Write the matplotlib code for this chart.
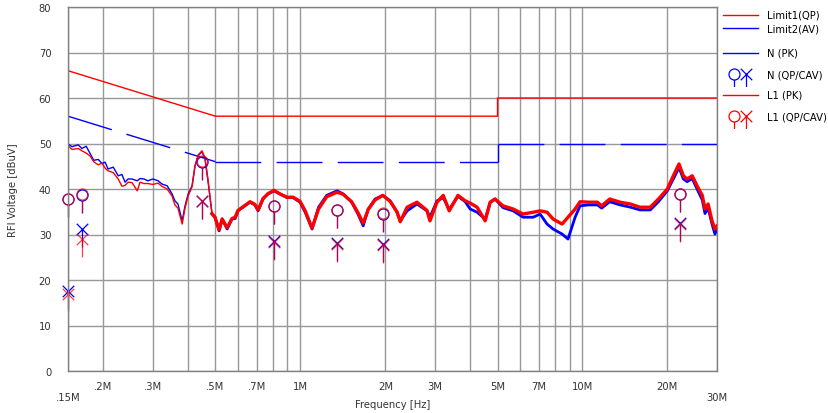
import matplotlib
matplotlib.use("Agg")
import matplotlib.pyplot as plt
from matplotlib.legend_handler import HandlerTuple
from matplotlib.lines import Line2D
from matplotlib.path import Path
from matplotlib.transforms import Affine2D
import numpy as np

# Peak scans, frequency in MHz, level in dBuV
freq_mhz = [
    0.150, 0.155, 0.163, 0.168, 0.174, 0.180, 0.185, 0.192, 0.198, 0.203,
    0.208, 0.217, 0.226, 0.233, 0.239, 0.245, 0.253, 0.264, 0.270, 0.279,
    0.288, 0.300, 0.313, 0.323, 0.337, 0.351, 0.359, 0.368, 0.381, 0.390,
    0.400, 0.413, 0.423, 0.434, 0.448, 0.459, 0.471, 0.486, 0.498, 0.515,
    0.528, 0.550, 0.572, 0.587, 0.601, 0.636, 0.663, 0.690, 0.708, 0.737,
    0.768, 0.807, 0.847, 0.897, 0.942, 0.997, 1.04, 1.10, 1.16, 1.24,
    1.35, 1.42, 1.52, 1.60, 1.67, 1.74, 1.84, 1.96, 2.08, 2.20,
    2.26, 2.39, 2.59, 2.81, 2.88, 3.05, 3.21, 3.37, 3.62, 3.84,
    4.00, 4.23, 4.52, 4.71, 4.90, 5.23, 5.68, 6.16, 6.69, 7.08,
    7.49, 7.87, 8.47, 8.89, 9.42, 9.81, 10.5, 11.3, 11.7, 12.5,
    13.6, 14.8, 16.0, 17.4, 18.6, 20.0, 21.0, 22.0, 22.8, 23.5,
    24.5, 25.5, 26.6, 27.2, 27.9, 28.8, 29.5, 30.0,
]
n_pk = [
    49.9, 49.3, 49.7, 48.9, 49.4, 47.7, 46.3, 46.5, 45.6, 45.9,
    44.4, 44.8, 42.9, 43.2, 41.5, 42.2, 42.2, 41.8, 42.3, 42.2,
    41.8, 42.2, 41.8, 41.1, 40.7, 38.9, 37.4, 36.7, 33.0, 36.3,
    38.9, 40.7, 45.1, 47.3, 48.2, 46.6, 41.5, 34.5, 33.8, 30.8,
    33.4, 31.2, 33.4, 33.5, 35.2, 36.3, 37.1, 36.5, 35.2, 37.8,
    38.9, 39.6, 38.9, 38.1, 38.1, 37.1, 34.9, 31.2, 36.0, 38.6,
    39.6, 38.9, 37.1, 34.5, 31.9, 35.6, 37.8, 38.6, 37.4, 34.9,
    33.0, 35.2, 36.7, 35.2, 33.8, 37.4, 38.1, 35.5, 38.4, 37.2,
    35.6, 34.9, 33.4, 37.1, 37.8, 35.9, 35.2, 33.8, 33.8, 34.5,
    32.3, 31.2, 30.1, 29.0, 33.8, 36.3, 36.5, 36.5, 35.8, 37.2,
    36.5, 36.0, 35.4, 35.4, 37.2, 39.6, 42.2, 44.7, 42.2, 41.6,
    42.3, 40.0, 37.6, 34.6, 35.8, 32.3, 30.1, 31.0,
]
l1_pk = [
    49.5, 48.7, 48.9, 48.4, 47.9, 47.2, 46.0, 45.3, 45.7, 44.6,
    44.0, 43.6, 42.2, 40.6, 40.8, 41.5, 41.4, 39.6, 41.5, 41.2,
    41.2, 41.0, 41.3, 40.6, 40.0, 38.4, 36.5, 35.8, 32.3, 35.8,
    38.5, 40.5, 45.0, 47.5, 48.4, 46.8, 41.8, 34.6, 33.8, 31.0,
    33.4, 31.5, 33.5, 33.8, 35.3, 36.4, 37.2, 36.6, 35.4, 37.9,
    39.0, 39.7, 38.9, 38.2, 38.2, 37.3, 35.2, 31.4, 35.6, 38.3,
    39.3, 38.8, 37.2, 34.8, 32.5, 35.5, 37.6, 38.6, 37.3, 35.0,
    32.8, 36.0, 37.1, 35.3, 33.0, 37.1, 38.6, 35.2, 38.6, 37.4,
    36.9, 36.0, 33.0, 37.1, 37.8, 36.3, 35.6, 34.5, 34.9, 35.2,
    34.9, 33.4, 32.3, 33.8, 35.6, 37.2, 37.1, 37.1, 36.3, 37.8,
    37.1, 36.7, 36.0, 36.0, 37.8, 40.0, 42.9, 45.5, 42.9, 42.2,
    42.9, 40.7, 38.6, 35.6, 36.7, 33.0, 31.2, 31.9,
]

# Limit lines
limit_freq = [0.15, 0.5, 5, 5, 30]
limit1_qp = [66, 56, 56, 60, 60]
limit2_av = [56, 46, 46, 50, 50]

# Final measurements (QP and CAV detector)
meas_freq = [0.150, 0.168, 0.447, 0.807, 1.35, 1.96, 22.1]
n_qp = [37.8, 38.6, 46.0, 36.2, 35.3, 34.5, 38.8]
n_cav = [17.5, 31.1, 37.3, 28.6, 28.2, 27.9, 32.6]
l1_qp = [37.9, 38.8, 46.1, 36.3, 35.4, 34.7, 38.9]
l1_cav = [17.0, 29.0, 37.4, 28.3, 28.0, 27.6, 32.4]

xtick_pos = [0.15, 0.2, 0.3, 0.4, 0.5, 0.6, 0.7, 0.8, 0.9, 1, 2, 3, 4, 5,
             6, 7, 8, 9, 10, 20, 30]
xtick_lab = ["\n.15M", ".2M", ".3M", "", ".5M", "", ".7M", "", "", "1M",
             "2M", "3M", "", "5M", "", "7M", "", "", "10M", "20M", "\n30M"]
ytick_pos = [0, 10, 20, 30, 40, 50, 60, 70, 80]

RED = "#ff0000"
BLUE = "#0000ff"
FS = 7.2
MEW = 0.9


def stem_markers(stem):
    """Circle (QP) and cross (CAV) marker paths with a stem below."""
    circ = Path.make_compound_path(
        Path.unit_circle().transformed(Affine2D().scale(1.1)),
        Path([(0, -1.1), (0, -stem)], [Path.MOVETO, Path.LINETO]),
    )
    cross = Path(
        [(-1.15, -1.15), (1.15, 1.15), (-1.15, 1.15), (1.15, -1.15),
         (0, 0), (0, -stem)],
        [Path.MOVETO, Path.LINETO, Path.MOVETO, Path.LINETO,
         Path.MOVETO, Path.LINETO],
    )
    # 1 unit = 5 px; markersize is the full extent in points
    ms = 2 * stem * 5 * 72 / 100
    return circ, cross, ms


circle_stem, cross_stem, MS = stem_markers(3.6)
circle_leg, cross_leg, MS_LEG = stem_markers(2.5)

plt.rcParams["font.family"] = ["DejaVu Sans"]

fig = plt.figure(figsize=(8.29, 4.14), dpi=100)
ax = fig.add_axes([68 / 829, 1 - 372 / 414, 649 / 829, 364 / 414])

# Limits (the AV limit is dashed segment by segment)
ax.plot(limit_freq, limit1_qp, color=RED, lw=1.0)
for i in range(len(limit_freq) - 1):
    ax.plot(limit_freq[i:i + 2], limit2_av[i:i + 2], color=BLUE, lw=1.0,
            dashes=(33, 11))

# Peak traces: thin at the low end, noisier/thicker above 0.5 MHz
f = np.asarray(freq_mhz)
lo = f <= 0.5
hi = f >= 0.48
for vals, col, lw in ((n_pk, BLUE, 2.0), (l1_pk, RED, 2.4)):
    v = np.asarray(vals)
    ax.plot(f[lo], v[lo], color=col, lw=1.0)
    ax.plot(f[hi], v[hi], color=col, lw=lw, solid_joinstyle="round")

# Final measurement markers
for qp, cav, col, a in ((n_qp, n_cav, BLUE, 1.0), (l1_qp, l1_cav, RED, 0.75)):
    ax.plot(meas_freq, qp, ls="none", marker=circle_stem, ms=MS, mfc="none",
            mec=col, mew=MEW, alpha=a, clip_on=False)
    ax.plot(meas_freq, cav, ls="none", marker=cross_stem, ms=MS, mfc="none",
            mec=col, mew=MEW, alpha=a, clip_on=False)

# Axes
ax.set_xscale("log")
ax.set_xlim(0.15, 30)
ax.set_ylim(0, 80)
ax.xaxis.set_minor_locator(matplotlib.ticker.NullLocator())
ax.set_xticks(xtick_pos, xtick_lab)
ax.set_yticks(ytick_pos)
ax.tick_params(length=0, labelsize=FS, labelcolor="#333333")
ax.tick_params(axis="x", pad=7)
ax.tick_params(axis="y", pad=12)
ax.grid(True, color="#989898", lw=1.0)
ax.set_axisbelow(True)
for s in ax.spines.values():
    s.set_color("#808080")
    s.set_linewidth(1.0)

ax.set_xlabel("Frequency [Hz]", fontsize=FS, color="#333333")
ax.set_ylabel("RFI Voltage [dBuV]", fontsize=FS, color="#333333")
ax.xaxis.set_label_coords(0.5, -(400 - 372) / 364)
ax.yaxis.set_label_coords(-(68 - 18) / 649, 0.5)

# Legends outside on the right
lim_handles = [Line2D([], [], color=RED, lw=1.0), Line2D([], [], color=BLUE, lw=1.0)]
leg1 = ax.legend(lim_handles, ["Limit1(QP)", "Limit2(AV)"], loc="upper left",
                 bbox_to_anchor=(1 + 6 / 649, 1 - 3 / 364), frameon=False,
                 fontsize=FS, handlelength=3.5, handletextpad=0.9,
                 labelspacing=0.3, borderpad=0, borderaxespad=0)
ax.add_artist(leg1)


def meas_handle(col):
    c = Line2D([], [], ls="none", marker=circle_leg, ms=MS_LEG, mfc="none",
               mec=col, mew=MEW)
    x = Line2D([], [], ls="none", marker=cross_leg, ms=MS_LEG, mfc="none",
               mec=col, mew=MEW)
    return (c, x)


handles = [Line2D([], [], color=BLUE, lw=1.0), meas_handle(BLUE),
           Line2D([], [], color=RED, lw=1.0), meas_handle(RED)]
ax.legend(handles, ["N (PK)", "N (QP/CAV)", "L1 (PK)", "L1 (QP/CAV)"],
          loc="upper left", bbox_to_anchor=(1 + 6 / 649, 1 - 41 / 364),
          frameon=False, fontsize=FS, handlelength=3.5, handletextpad=0.9,
          labelspacing=1.1, borderpad=0, borderaxespad=0,
          handler_map={tuple: HandlerTuple(ndivide=None, pad=-1.1)})

fig.savefig("out.png", dpi=100)
